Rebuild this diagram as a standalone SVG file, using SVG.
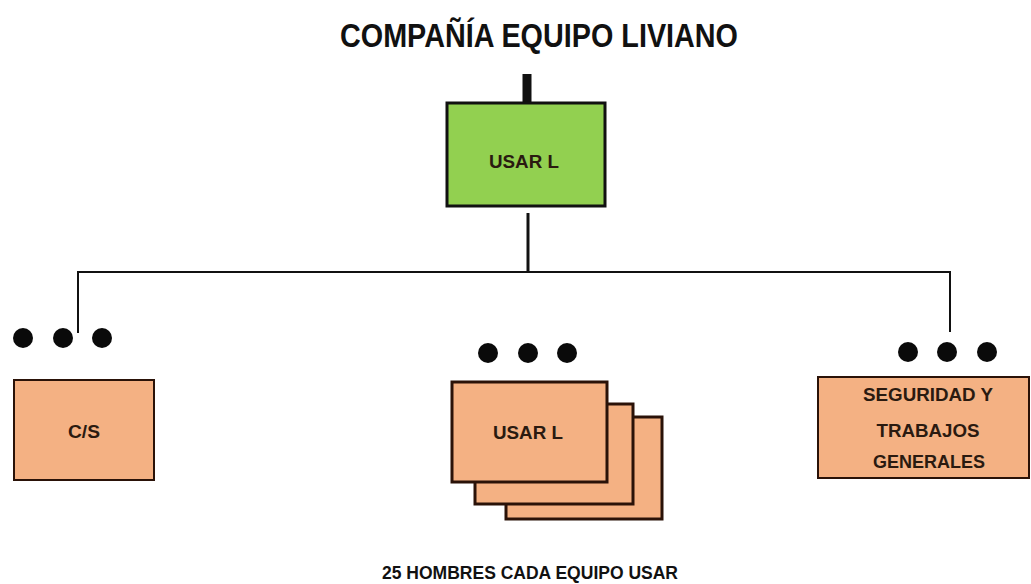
<svg xmlns="http://www.w3.org/2000/svg" width="1031" height="584" viewBox="0 0 1031 584">
<style>
.bg{fill:#ffffff}
.title{font-family:"Liberation Sans",Arial,sans-serif;font-weight:bold;font-size:34px;fill:#111111}
.lbl{font-family:"Liberation Sans",Arial,sans-serif;font-weight:bold;font-size:19px;fill:#2a1a10;text-anchor:middle}
.foot{font-family:"Liberation Sans",Arial,sans-serif;font-weight:bold;font-size:18px;fill:#111111}
.green{fill:#92D050;stroke:#111111;stroke-width:3}
.peach{fill:#F4B183;stroke:#2a1208;stroke-width:2}
.peachb{fill:#F4B183;stroke:#2a1208;stroke-width:3}
.wire{fill:none;stroke:#111111;stroke-width:2}
.dot{fill:#0a0a0a}
</style>
<rect class="bg" x="0" y="0" width="1031" height="584"/>
<text class="title" x="340" y="47" textLength="398" lengthAdjust="spacingAndGlyphs">COMPAÑÍA EQUIPO LIVIANO</text>

<g id="connectors">
<line x1="527" y1="74" x2="527" y2="103" stroke="#111111" stroke-width="9"/>
<line x1="528" y1="213" x2="528" y2="272" stroke="#111111" stroke-width="3"/>
<polyline class="wire" points="78,333 78,272 950,272 950,332"/>
</g>

<g id="node-top">
<rect class="green" x="447" y="103" width="158" height="103"/>
<text class="lbl" x="524" y="168" textLength="70" lengthAdjust="spacingAndGlyphs">USAR L</text>
</g>

<g id="node-cs">
<circle class="dot" cx="23" cy="338" r="10"/>
<circle class="dot" cx="63" cy="338" r="10"/>
<circle class="dot" cx="102" cy="338" r="10"/>
<rect class="peach" x="14" y="380" width="140" height="100"/>
<text class="lbl" x="84" y="438" textLength="32" lengthAdjust="spacingAndGlyphs">C/S</text>
</g>

<g id="node-usar">
<circle class="dot" cx="488" cy="353" r="10"/>
<circle class="dot" cx="528" cy="353" r="10"/>
<circle class="dot" cx="567" cy="353" r="10"/>
<rect class="peachb" x="506" y="417" width="156" height="102"/>
<rect class="peachb" x="475" y="404" width="158" height="100"/>
<rect class="peachb" x="452" y="382" width="155" height="100"/>
<text class="lbl" x="528" y="439" textLength="70" lengthAdjust="spacingAndGlyphs">USAR L</text>
</g>

<g id="node-seg">
<circle class="dot" cx="908" cy="352" r="10"/>
<circle class="dot" cx="947" cy="352" r="10"/>
<circle class="dot" cx="987" cy="352" r="10"/>
<rect class="peach" x="818" y="377" width="211" height="101"/>
<text class="lbl" x="928" y="401" textLength="130" lengthAdjust="spacingAndGlyphs">SEGURIDAD Y</text>
<text class="lbl" x="928" y="437" textLength="103" lengthAdjust="spacingAndGlyphs">TRABAJOS</text>
<text class="lbl" x="929" y="468" textLength="112" lengthAdjust="spacingAndGlyphs">GENERALES</text>
</g>

<text class="foot" x="382" y="579" textLength="296" lengthAdjust="spacingAndGlyphs">25 HOMBRES CADA EQUIPO USAR</text>
</svg>
